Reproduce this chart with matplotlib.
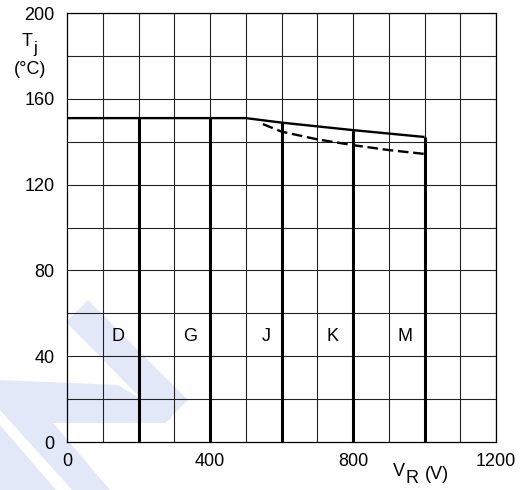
import matplotlib
matplotlib.use("Agg")
import matplotlib.pyplot as plt
import numpy as np
from matplotlib.patches import Polygon

plt.rcParams['font.family'] = ['Liberation Sans', 'DejaVu Sans']

# Data
solid_x = [0, 500, 600, 800, 1000]
solid_y = [151, 151, 148.9, 145.4, 142.2]
dash_x = [548, 600, 700, 800, 900, 1000]
dash_y = [148.2, 144.7, 141.1, 138.4, 136.1, 134.3]
voltage_limits = [200, 400, 600, 800, 1000]
class_labels = ['D', 'G', 'J', 'K', 'M']
label_x = [143, 344, 558, 744, 946]
label_y = 49
x_ticks = [0, 400, 800, 1200]
y_ticks = [0, 40, 80, 120, 160, 200]

W, H = 528, 490
fig = plt.figure(figsize=(W / 100, H / 100), dpi=100)

# faint watermark (figure pixel coords, y down)
def px(pts):
    return [(x / W, 1 - y / H) for x, y in pts]
wm = '#e2e8f7'
for pts in [
    [(88, 300), (188, 400), (165, 423), (66, 322)],
    [(0, 380), (118, 385), (172, 418), (165, 423), (53, 423), (110, 490),
     (72, 490), (0, 410)],
    [(0, 425), (56, 490), (0, 490)],
]:
    fig.patches.append(Polygon(px(pts), closed=True, transform=fig.transFigure,
                               facecolor=wm, edgecolor='none', zorder=-10))

ax = fig.add_axes([67 / W, 1 - 442 / H, (496 - 67) / W, (442 - 13) / H])
ax.set_zorder(1)
ax.patch.set_alpha(0)
ax.set_xlim(0, 1200)
ax.set_ylim(0, 200)

# grid
for gx in np.arange(100, 1201, 100):
    ax.axvline(gx, color='#222222', lw=0.8, zorder=1)
for gy in np.arange(20, 201, 20):
    ax.axhline(gy, color='#222222', lw=0.8, zorder=1)
for s in ax.spines.values():
    s.set_linewidth(0.9)
    s.set_color('black')

# curves
ax.plot(solid_x, solid_y, color='black', lw=1.7, zorder=3, solid_capstyle='butt')
ax.plot(dash_x, dash_y, color='black', lw=1.7, zorder=3, dashes=(4.5, 2))
tops = np.interp(voltage_limits, solid_x, solid_y)
for vx, ty in zip(voltage_limits, tops):
    ax.plot([vx, vx], [0, ty], color='black', lw=2.2, zorder=3, solid_capstyle='butt')

FS = 13
for lab, lx in zip(class_labels, label_x):
    ax.text(lx, label_y, lab, ha='center', va='center', fontsize=FS, zorder=4)

ax.set_xticks(x_ticks)
ax.set_yticks(y_ticks)
ax.set_xticklabels([str(v) for v in x_ticks], fontsize=FS)
ax.set_yticklabels([str(v) for v in y_ticks], fontsize=FS)
ax.tick_params(length=0, pad=8)
ax.tick_params(axis='y', pad=9)

def ftext(x, y, s, **kw):
    fig.text(x / W, 1 - y / H, s, va='center', **kw)

ftext(27, 41, 'T', ha='center', fontsize=FS)
ftext(35, 49, 'j', ha='center', fontsize=FS - 1)
ftext(30, 70, '(°C)', ha='center', fontsize=FS)
ftext(399, 471, 'V', ha='center', fontsize=FS)
ftext(412, 478, 'R', ha='center', fontsize=FS)
ftext(437, 474, '(V)', ha='center', fontsize=FS)

fig.savefig('out.png', dpi=100)
